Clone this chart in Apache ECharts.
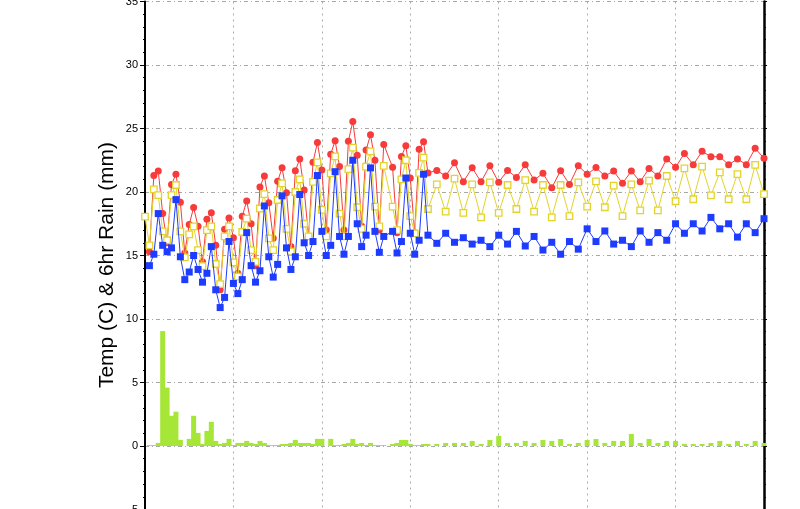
<!DOCTYPE html>
<html>
<head>
<meta charset="utf-8">
<script src="https://cdn.jsdelivr.net/npm/echarts@6/dist/echarts.min.js"></script>
<style>
html,body{margin:0;padding:0;background:#ffffff;}
#chart{width:800px;height:509px;}
</style>
</head>
<body>
<div id="chart"></div>
<script>
// forecast hours (6-hourly to 378 h, 330 h missing; then 12-hourly)
const tempHours = [6,12,18,24,30,36,42,48,54,60,66,72,78,84,90,96,102,108,114,120,
  126,132,138,144,150,156,162,168,174,180,186,192,198,204,210,216,222,228,234,240,
  246,252,258,264,270,276,282,288,294,300,306,312,318,324,
  336,342,348,354,360,366,372,378,
  384,396,408,420,432,444,456,468,480,492,504,516,528,540,552,564,576,588,600,612,
  624,636,648,660,672,684,696,708,720,732,744,756,768,780,792,804,816,828,840];
const yellowHours = [0].concat(tempHours);

const blueTemp = [14.2,15.1,18.3,15.8,15.3,15.6,19.4,14.9,13.1,13.7,
  15.0,13.9,12.9,13.6,15.7,12.3,10.9,11.7,16.1,12.8,
  12.0,13.1,16.8,14.2,12.9,13.8,18.9,14.9,13.3,14.3,
  19.7,15.6,13.9,14.9,19.8,16.0,15.0,16.1,21.3,16.9,
  15.0,15.8,21.6,16.5,15.1,16.5,22.5,17.5,15.7,16.6,
  21.9,16.9,15.25,16.5,
  16.9,15.2,16.1,21.1,16.75,15.1,16.2,21.4,
  16.6,15.96,16.75,16.04,16.4,15.9,16.2,15.7,16.6,15.9,16.9,15.75,16.5,15.43,16.04,15.1,
  16.1,15.5,17.1,16.1,16.93,15.9,16.2,15.7,16.93,16.04,16.8,16.2,17.5,16.75,17.5,16.93,
  18.0,17.1,17.5,16.45,17.5,16.8,17.9];

const redTemp = [15.3,21.3,21.65,18.3,16.0,20.6,21.4,19.2,15.2,17.45,
  18.77,17.3,14.5,17.85,18.37,15.8,12.3,17.06,17.95,16.4,
  13.6,18.1,19.3,17.5,14.2,20.4,21.26,19.16,16.35,20.84,
  21.9,19.95,15.7,21.67,22.6,20.16,16.5,22.34,23.9,21.73,
  17.0,22.97,24.04,22.0,17.0,24.0,25.55,22.9,17.3,23.3,
  24.5,22.5,17.0,23.75,
  21.94,16.8,22.8,23.65,21.1,16.8,23.36,23.96,
  21.5,21.7,21.26,22.3,20.8,21.9,20.8,22.07,20.76,21.7,21.15,22.15,20.94,21.47,20.34,21.68,
  20.6,22.07,21.39,21.92,21.26,21.65,20.68,21.65,20.8,21.86,21.26,22.6,21.94,23.04,22.15,23.2,
  22.78,22.78,22.15,22.6,22.15,23.44,22.65];

const yellowTemp = [18.06,15.8,20.2,19.76,16.9,16.2,19.76,20.55,16.9,14.86,
  16.67,17.3,15.43,14.17,17.0,17.3,14.33,12.75,16.5,17.3,
  14.46,13.33,16.85,17.9,15.43,14.5,18.7,19.84,16.35,15.43,
  19.37,20.68,17.1,15.3,20.0,21.0,17.5,16.5,20.8,22.34,
  18.6,16.5,21.47,22.8,18.3,16.5,21.8,23.5,18.8,17.1,
  22.0,23.2,18.85,17.3,22.05,
  18.85,17.0,21.0,22.5,18.1,16.75,21.5,22.7,
  18.66,20.6,18.45,21.05,18.35,20.6,18.0,20.76,18.35,20.55,18.66,20.94,18.45,20.55,18.0,20.55,
  18.1,20.76,18.85,20.84,18.8,20.5,18.1,20.6,18.55,20.9,18.55,21.26,19.27,21.86,19.43,22.0,
  19.74,21.55,19.43,21.4,19.43,22.13,19.84];

// 6hr rain
const rain6Hours = [6,12,18,24,30,36,42,48,54,60,66,72,78,84,90,96,102,108,114,120,
  126,132,138,144,150,156,162,168,174,180,186,192,198,204,210,216,222,228,234,240,
  246,252,258,264,270,276,282,288,294,300,306,312,318,324,
  336,342,348,354,360,366,372,378];
const rain6 = [0.08,0.08,0.24,9.05,4.6,2.38,2.7,0.48,0,0.56,
  2.38,1.03,0.16,1.19,1.9,0.4,0.16,0.24,0.56,0.08,
  0.24,0.24,0.4,0.24,0.16,0.4,0.24,0.08,0.08,0.08,
  0.16,0.16,0.24,0.48,0.24,0.24,0.24,0.16,0.56,0.56,
  0,0.56,0.08,0.08,0.16,0.24,0.56,0.16,0.24,0.08,
  0.24,0.08,0.08,0.08,
  0.16,0.24,0.48,0.48,0.16,0.08,0.08,0.16];
const rain12Hours = [384,396,408,420,432,444,456,468,480,492,504,516,528,540,552,564,576,588,600,612,
  624,636,648,660,672,684,696,708,720,732,744,756,768,780,792,804,816,828,840];
const rain12 = [0.16,0.16,0.24,0.24,0.24,0.4,0.16,0.47,0.8,
  0.24,0.24,0.4,0.24,0.47,0.4,0.55,0.16,0.24,0.47,
  0.55,0.24,0.4,0.4,0.95,0.24,0.55,0.24,0.4,0.4,
  0.16,0.16,0.16,0.24,0.4,0.16,0.4,0.16,0.4,0.24];

const yTicks = {min:-5, max:35, interval:5};

function pairs(xs, ys){ return xs.map((x,i)=>[x, ys[i]]); }

const chart = echarts.init(document.getElementById('chart'), null, {renderer:'canvas'});
const gridColor = '#a9a9a9';
chart.setOption({
  animation:false,
  backgroundColor:'#ffffff',
  grid:{left:145, top:1.5, width:619, height:508, outerBoundsMode:'none', containLabel:false},
  xAxis:{type:'value', min:0, max:840, interval:120,
    axisLine:{show:false}, axisTick:{show:false}, axisLabel:{show:false},
    splitLine:{show:true, lineStyle:{color:gridColor, width:1, type:[2,4]}}},
  yAxis:[{type:'value', min:yTicks.min, max:yTicks.max, interval:yTicks.interval, position:'left',
    axisLine:{show:true, onZero:false, lineStyle:{color:'#000', width:2}},
    axisTick:{show:true, length:5, lineStyle:{color:'#000', width:1}},
    minorTick:{show:true, splitNumber:5, length:2, lineStyle:{color:'#000', width:1}},
    axisLabel:{color:'#000', fontFamily:'Liberation Sans', fontSize:11, margin:7},
    splitLine:{show:true, lineStyle:{color:gridColor, width:1, type:[4,3,1,3]}}},
   {type:'value', min:yTicks.min, max:yTicks.max, interval:yTicks.interval, position:'right',
    axisLine:{show:true, onZero:false, lineStyle:{color:'#000', width:2.5}},
    axisTick:{show:true, length:3, lineStyle:{color:'#000', width:1}},
    minorTick:{show:true, splitNumber:5, length:2, lineStyle:{color:'#000', width:1}},
    axisLabel:{show:false}, splitLine:{show:false}}],
  graphic:[{type:'text', x:107, y:265, rotation:Math.PI/2,
    style:{text:'Temp (C) & 6hr Rain (mm)', x:0, y:0, align:'center', verticalAlign:'middle',
      font:'21px "Liberation Sans"', fill:'#000'}}],
  series:[
    {type:'bar', stack:'rain', data:pairs(rain6Hours, rain6), barWidth:5, itemStyle:{color:'#a6e637'}, z:1},
    {type:'bar', stack:'rain', data:pairs(rain12Hours, rain12), barWidth:5.5, itemStyle:{color:'#a6e637'}, z:1},
    {type:'line', data:pairs(tempHours, redTemp), symbol:'circle', symbolSize:7,
      lineStyle:{color:'#f73a3a', width:1}, itemStyle:{color:'#f73a3a'}, z:3},
    {type:'line', data:pairs(yellowHours, yellowTemp), symbol:'rect', symbolSize:6.5,
      lineStyle:{color:'#e3d42a', width:1}, itemStyle:{color:'#ffffff', borderColor:'#e3d42a', borderWidth:1.3}, z:4},
    {type:'line', data:pairs(tempHours, blueTemp), symbol:'rect', symbolSize:7,
      lineStyle:{color:'#1e3cff', width:1}, itemStyle:{color:'#1e3cff'}, z:5}
  ]
});
</script>
</body>
</html>
